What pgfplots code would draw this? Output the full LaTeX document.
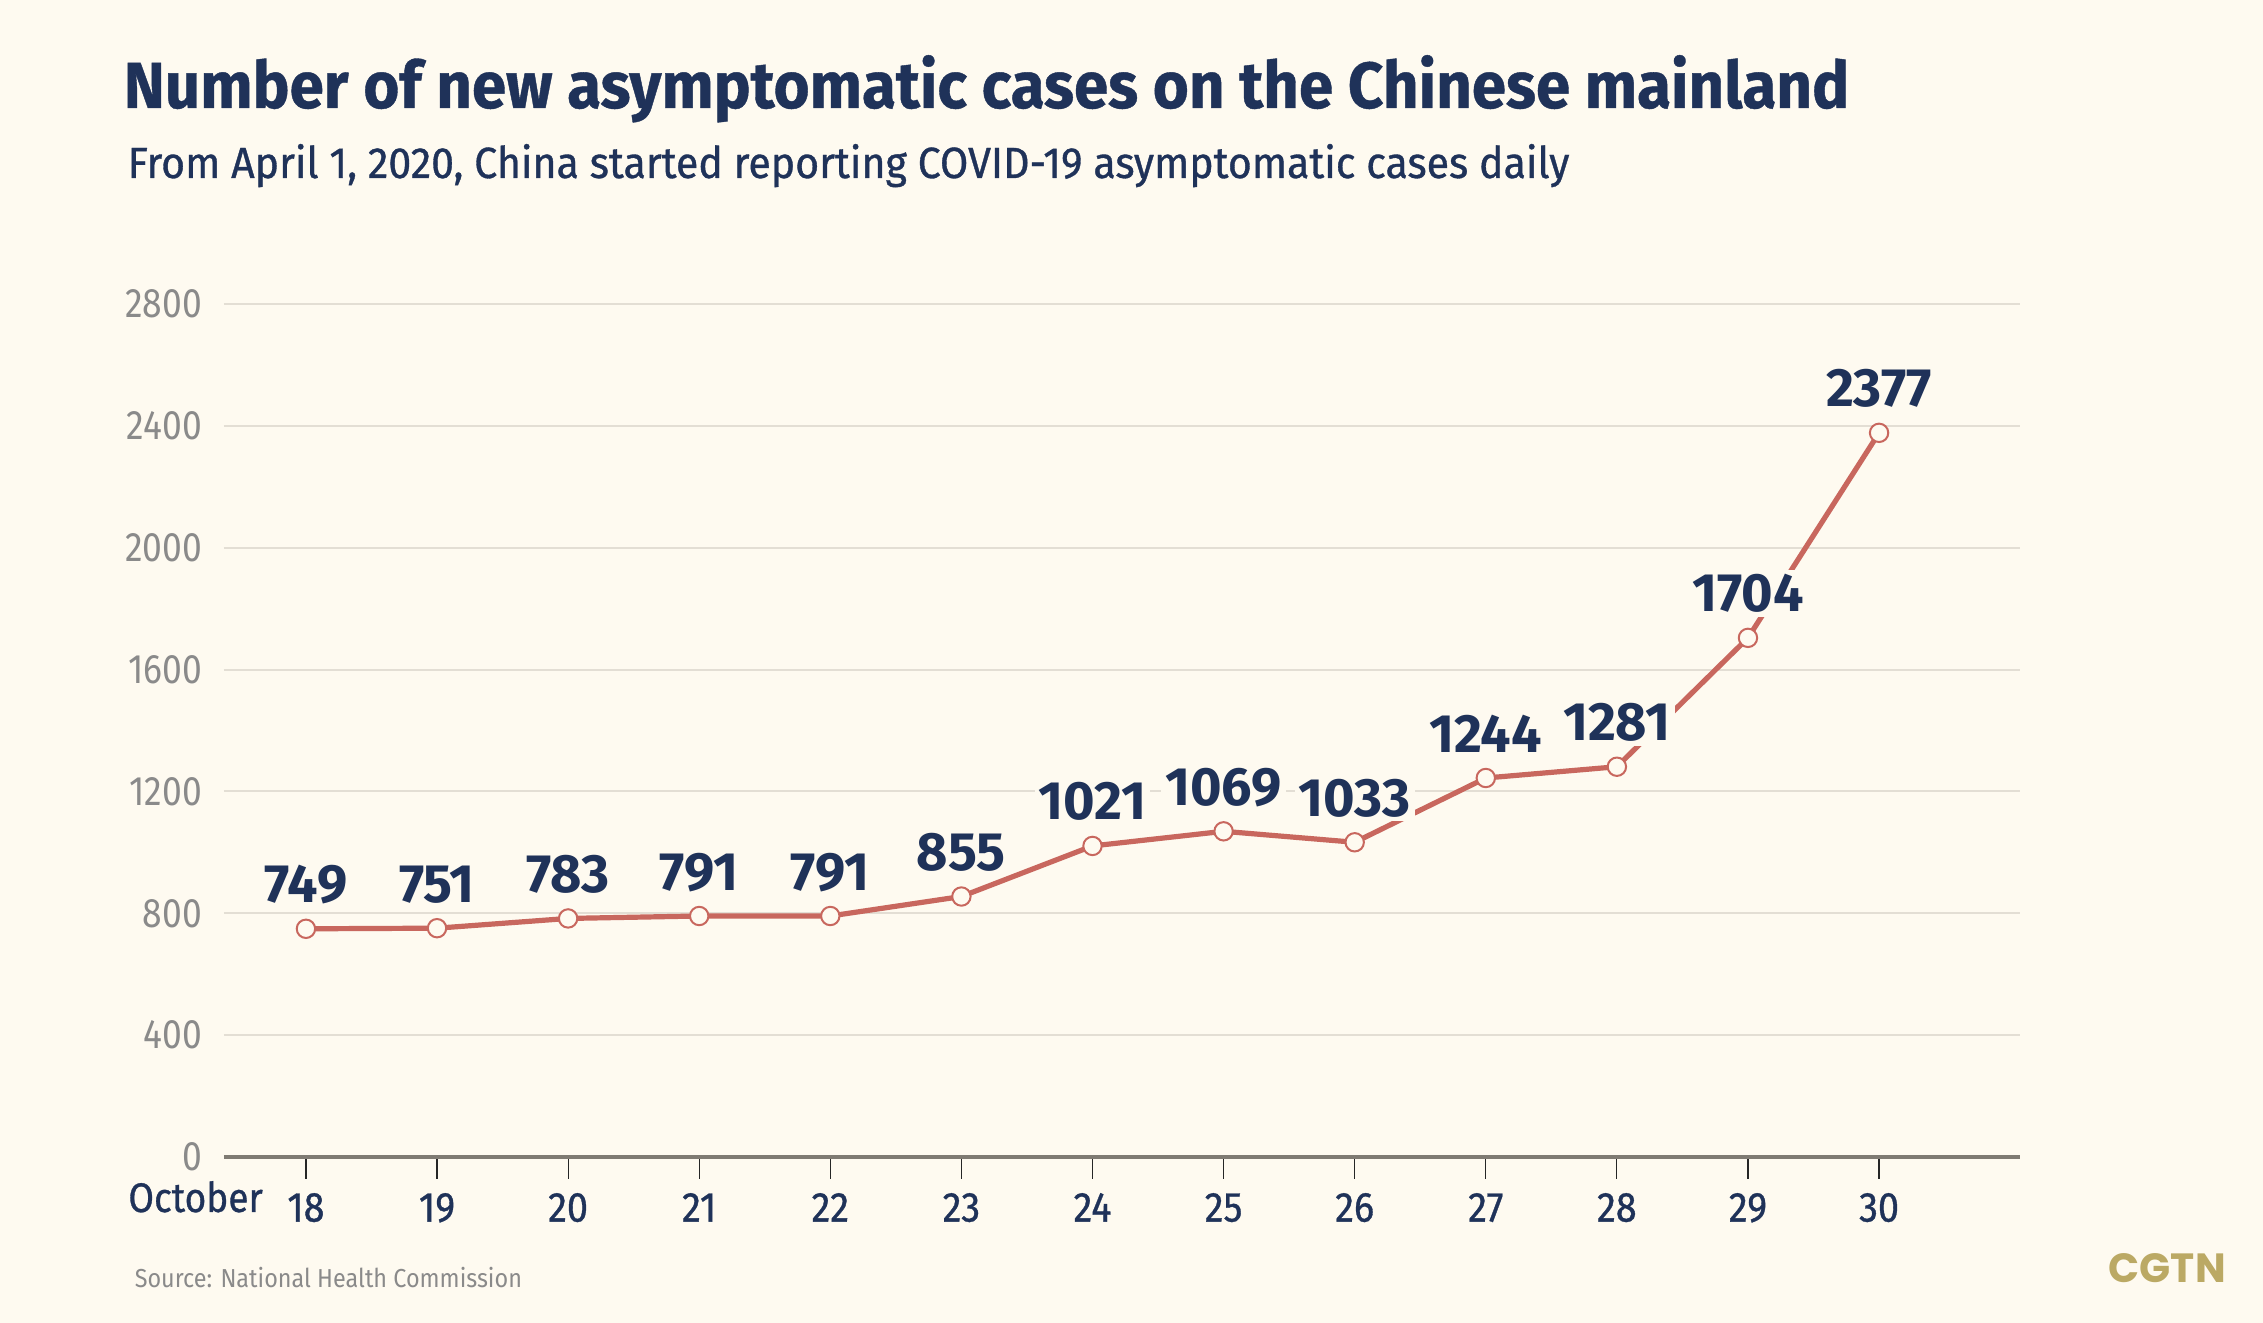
\documentclass[border=0pt]{standalone}
\usepackage{pgfplots}
\pgfplotsset{compat=1.18}
\usepackage{fontspec}
\setmainfont{Fira Sans}
\newfontfamily\din[FakeStretch=0.86]{Fira Sans}
\newfontfamily\dintitle[FakeStretch=0.95, FakeBold=0.6]{Fira Sans}
\newfontfamily\dinsub[FakeStretch=0.942, FakeBold=0.8]{Fira Sans}
\newfontfamily\dinmed[FakeStretch=0.9, FakeBold=0.8]{Fira Sans}
\newfontfamily\dinsrc[FakeStretch=0.9]{Fira Sans}
\newfontfamily\dinlab{Fira Sans}
\newfontfamily\logofont{Poppins}
\definecolor{bg}{HTML}{FEFAF0}
\definecolor{navy}{HTML}{1F3259}
\definecolor{redline}{HTML}{C8675E}
\definecolor{gridc}{HTML}{E3DED4}
\definecolor{axisc}{HTML}{7F7B73}
\definecolor{tickgray}{HTML}{8A8A8A}
\definecolor{gold}{HTML}{BBA964}
\pgfplotstableread{
day cases
18 749
19 751
20 783
21 791
22 791
23 855
24 1021
25 1069
26 1033
27 1244
28 1281
29 1704
30 2377
}\datatable
\begin{document}
\begin{tikzpicture}
\fill[bg] (0,0) rectangle (565.75pt,330.75pt);
\node[anchor=base west, inner sep=0, text=navy, font=\dintitle\fontsize{16.3}{18}\selectfont\bfseries] at (30.75pt,303.75pt) {Number of new asymptomatic cases on the Chinese mainland};
\node[anchor=base west, inner sep=0, text=navy, font=\dinsub\fontsize{10.9}{12}\selectfont] at (31.75pt,286.25pt) {From April 1, 2020, China started reporting COVID-19 asymptomatic cases daily};
\node[anchor=base west, inner sep=0, text=tickgray, font=\dinsrc\fontsize{6.5}{8}\selectfont] at (33.5pt,8.75pt) {Source: National Health Commission};
\node[anchor=base west, inner sep=0, text=gold, font=\logofont\fontsize{10.2}{12}\selectfont\bfseries] at (527pt,10pt) {CGTN};
\node[anchor=base west, inner sep=0, text=navy, font=\dinmed\fontsize{10.3}{12}\selectfont] at (31.9pt,27.75pt) {October};
\begin{axis}[
  at={(56pt,41.5pt)}, anchor=south west,
  scale only axis, width=449pt, height=213.25pt,
  xmin=17.375, xmax=31.075, ymin=0, ymax=2800,
  ytick={0,400,...,2800}, xtick={18,...,30},
  axis x line=bottom, axis y line=left,
  axis line style={-},
  y axis line style={draw=none},
  x axis line style={draw=axisc, line width=0.8pt},
  ytick style={draw=none},
  xtick style={draw=black!85, line width=0.3pt},
  tick align=outside,
  major tick length=5.5pt,
  ymajorgrids, grid style={gridc, line width=0.5pt},
  /pgf/number format/1000 sep={},
  /pgf/number format/assume math mode=true,
  yticklabel style={font=\din\fontsize{10.3}{12}\selectfont, text=tickgray, xshift=3.5pt},
  xticklabel style={font=\dinmed\fontsize{10.5}{12}\selectfont, text=navy},
  clip=false,
]
\addplot[redline, line width=1.3pt, mark=*, mark size=2.3pt,
  mark options={fill=bg, draw=redline, line width=0.5pt},
  nodes near coords,
  every node near coord/.append style={font=\dinlab\fontsize{13.5}{15}\selectfont\bfseries, text=navy, fill=bg, inner sep=1pt, anchor=base, yshift=6.5pt}
] table[x=day, y=cases] {\datatable};
\end{axis}
\end{tikzpicture}
\end{document}
